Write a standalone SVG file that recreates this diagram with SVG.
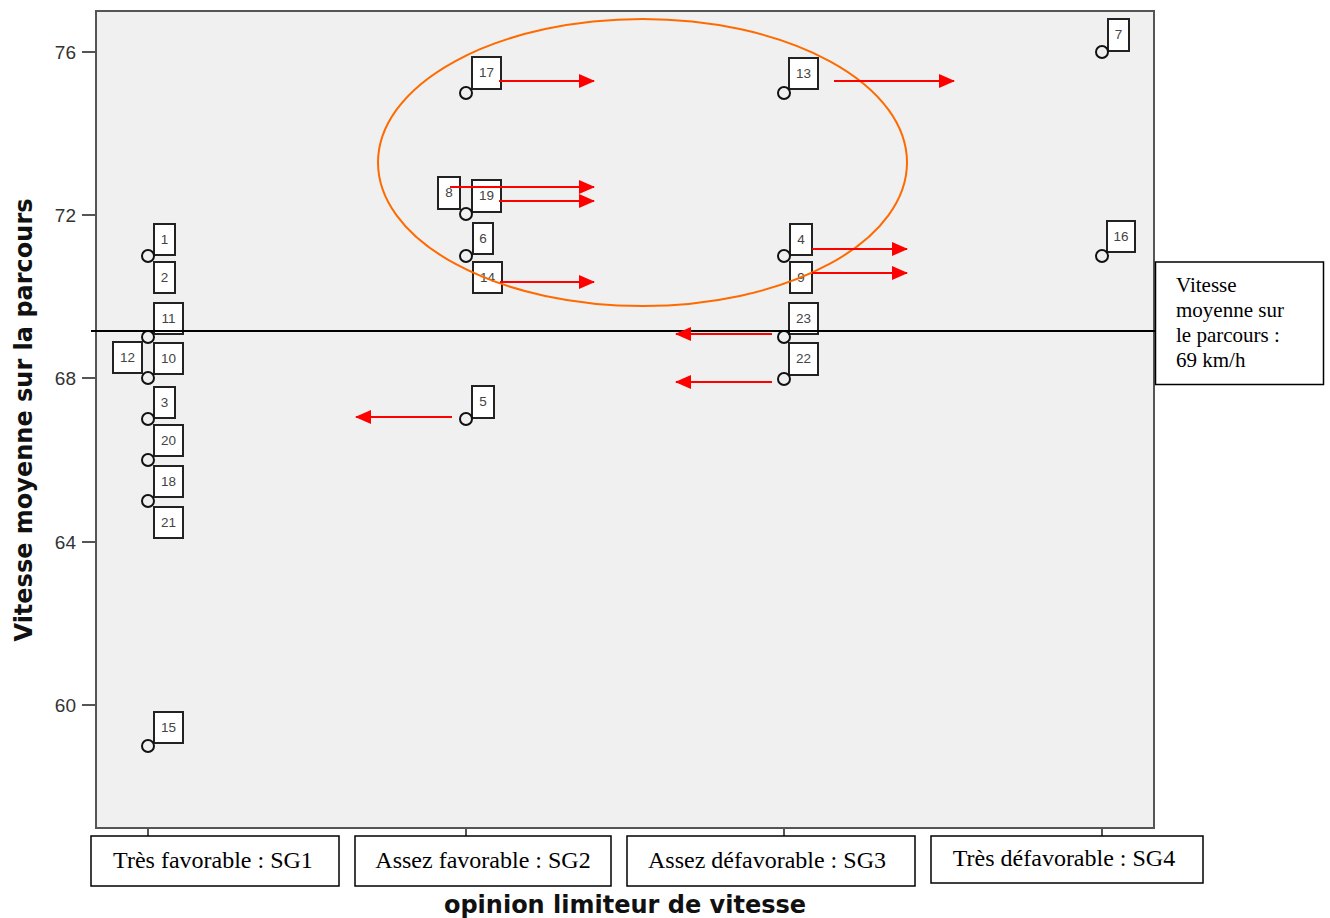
<svg xmlns="http://www.w3.org/2000/svg" width="1330" height="918" viewBox="0 0 1330 918">
<style>
.frame{fill:#f0f0f0;stroke:#555;stroke-width:2}
.tick{stroke:#555;stroke-width:2}
.tl{font-family:"Liberation Sans",Arial,sans-serif;font-size:19px;fill:#333;text-anchor:end}
.title{font-family:"DejaVu Sans",Verdana,sans-serif;font-weight:bold;font-size:24px;fill:#111;text-anchor:middle}
.pt{fill:none;stroke:#111;stroke-width:2}
.lb{fill:#fff;stroke:#222;stroke-width:2}
.lt{font-family:"Liberation Sans",Arial,sans-serif;font-size:13.5px;fill:#444;text-anchor:middle}
.cat{fill:#fff;stroke:#000;stroke-width:1.5}
.ct{font-family:"Liberation Serif","Times New Roman",serif;font-size:24px;fill:#000;text-anchor:middle}
.nt{font-family:"Liberation Serif","Times New Roman",serif;font-size:21px;fill:#000}
.arr{stroke:#ff0000;stroke-width:2;fill:none;marker-end:url(#ah)}
</style>
<defs>
<marker id="ah" markerUnits="userSpaceOnUse" markerWidth="16" markerHeight="14" refX="15" refY="7" orient="auto">
<path d="M0,0 L16,7 L0,14 Z" fill="#ff0000"/>
</marker>
</defs>
<rect x="0" y="0" width="1330" height="918" fill="#fff"/>
<g id="plot">
<rect class="frame" x="96" y="11" width="1058" height="817"/>
<line class="tick" x1="82" y1="52" x2="96" y2="52"/>
<line class="tick" x1="82" y1="215" x2="96" y2="215"/>
<line class="tick" x1="82" y1="378" x2="96" y2="378"/>
<line class="tick" x1="82" y1="542" x2="96" y2="542"/>
<line class="tick" x1="82" y1="705" x2="96" y2="705"/>
<text class="tl" x="76" y="59">76</text>
<text class="tl" x="76" y="222">72</text>
<text class="tl" x="76" y="385">68</text>
<text class="tl" x="76" y="549">64</text>
<text class="tl" x="76" y="712">60</text>
<line class="tick" x1="148" y1="828" x2="148" y2="836"/>
<line class="tick" x1="466" y1="828" x2="466" y2="836"/>
<line class="tick" x1="784" y1="828" x2="784" y2="836"/>
<line class="tick" x1="1102" y1="828" x2="1102" y2="836"/>
<text class="title" transform="translate(32,420) rotate(-90)">Vitesse moyenne sur la parcours</text>
<text class="title" x="625" y="913">opinion limiteur de vitesse</text>
</g>
<g id="cat-sg1"><rect class="cat" x="91" y="836" width="248" height="50"/><text class="ct" x="213" y="868">Très favorable : SG1</text></g>
<g id="cat-sg2"><rect class="cat" x="355" y="836" width="256" height="50"/><text class="ct" x="483" y="868">Assez favorable : SG2</text></g>
<g id="cat-sg3"><rect class="cat" x="627" y="836" width="288" height="50"/><text class="ct" x="767" y="868">Assez défavorable : SG3</text></g>
<g id="cat-sg4"><rect class="cat" x="931" y="836" width="272" height="47"/><text class="ct" x="1064" y="866">Très défavorable : SG4</text></g>

<g id="p1"><rect class="lb" x="154" y="224" width="21" height="31"/><text class="lt" x="164.5" y="244">1</text></g>
<g id="p2"><rect class="lb" x="154" y="262" width="21" height="31"/><text class="lt" x="164.5" y="282">2</text></g>
<g id="p11"><rect class="lb" x="154" y="303" width="29" height="31"/><text class="lt" x="168.5" y="323">11</text></g>
<g id="p12"><rect class="lb" x="113" y="342" width="29" height="31"/><text class="lt" x="127.5" y="362">12</text></g>
<g id="p10"><rect class="lb" x="154" y="343" width="29" height="31"/><text class="lt" x="168.5" y="363">10</text></g>
<g id="p3"><rect class="lb" x="154" y="387" width="21" height="31"/><text class="lt" x="164.5" y="407">3</text></g>
<g id="p20"><rect class="lb" x="154" y="425" width="29" height="31"/><text class="lt" x="168.5" y="445">20</text></g>
<g id="p18"><rect class="lb" x="154" y="466" width="29" height="31"/><text class="lt" x="168.5" y="486">18</text></g>
<g id="p21"><rect class="lb" x="154" y="507" width="29" height="31"/><text class="lt" x="168.5" y="527">21</text></g>
<g id="p15"><rect class="lb" x="154" y="712" width="29" height="31"/><text class="lt" x="168.5" y="732">15</text></g>
<g id="sg1-points">
<circle class="pt" cx="148" cy="256" r="6"/>
<circle class="pt" cx="148" cy="337" r="6"/>
<circle class="pt" cx="148" cy="378" r="6"/>
<circle class="pt" cx="148" cy="419" r="6"/>
<circle class="pt" cx="148" cy="460" r="6"/>
<circle class="pt" cx="148" cy="501" r="6"/>
<circle class="pt" cx="148" cy="746" r="6"/>
</g>

<g id="p17"><rect class="lb" x="472" y="57" width="29" height="32"/><text class="lt" x="486.5" y="77">17</text></g>
<g id="p8"><rect class="lb" x="438" y="177" width="22" height="32"/><text class="lt" x="449" y="197">8</text></g>
<g id="p19"><rect class="lb" x="472" y="180" width="29" height="32"/><text class="lt" x="486.5" y="200">19</text></g>
<g id="p6"><rect class="lb" x="473" y="223" width="20" height="31"/><text class="lt" x="483" y="243">6</text></g>
<g id="p14"><rect class="lb" x="473" y="262" width="29" height="31"/><text class="lt" x="487.5" y="282">14</text></g>
<g id="p5"><rect class="lb" x="472" y="386" width="22" height="32"/><text class="lt" x="483" y="406">5</text></g>
<g id="sg2-points">
<circle class="pt" cx="466" cy="93" r="6"/>
<circle class="pt" cx="466" cy="214" r="6"/>
<circle class="pt" cx="466" cy="256" r="6"/>
<circle class="pt" cx="466" cy="419" r="6"/>
</g>

<g id="p13"><rect class="lb" x="789" y="58" width="29" height="31"/><text class="lt" x="803.5" y="78">13</text></g>
<g id="p4"><rect class="lb" x="790" y="224" width="22" height="31"/><text class="lt" x="801" y="244">4</text></g>
<g id="p9"><rect class="lb" x="790" y="262" width="22" height="31"/><text class="lt" x="801" y="282">9</text></g>
<g id="p23"><rect class="lb" x="789" y="303" width="29" height="31"/><text class="lt" x="803.5" y="323">23</text></g>
<g id="p22"><rect class="lb" x="789" y="343" width="29" height="32"/><text class="lt" x="803.5" y="363">22</text></g>
<g id="sg3-points">
<circle class="pt" cx="784" cy="93" r="6"/>
<circle class="pt" cx="784" cy="256" r="6" stroke-width="2.6"/>
<circle class="pt" cx="784" cy="337" r="6"/>
<circle class="pt" cx="784" cy="379" r="6"/>
</g>

<g id="p7"><rect class="lb" x="1108" y="19" width="21" height="32"/><text class="lt" x="1118.5" y="39">7</text></g>
<g id="p16"><rect class="lb" x="1107" y="221" width="28" height="31"/><text class="lt" x="1121" y="241">16</text></g>
<g id="sg4-points">
<circle class="pt" cx="1102" cy="52" r="6"/>
<circle class="pt" cx="1102" cy="256" r="6"/>
</g>

<g id="mean-line"><line x1="91" y1="331" x2="1156" y2="331" stroke="#000" stroke-width="2"/></g>
<g id="mean-note">
<rect class="cat" x="1155.5" y="262" width="168" height="122.5"/>
<text class="nt" x="1176" y="292">Vitesse</text>
<text class="nt" x="1176" y="317">moyenne sur</text>
<text class="nt" x="1176" y="342">le parcours :</text>
<text class="nt" x="1176" y="367">69 km/h</text>
</g>
<g id="highlight"><ellipse cx="642.5" cy="162.5" rx="264.5" ry="143.5" fill="none" stroke="#ff6a00" stroke-width="2"/></g>
<g id="connectors">
<line class="arr" x1="499" y1="81" x2="594" y2="81"/>
<line class="arr" x1="450" y1="187" x2="594" y2="187"/>
<line class="arr" x1="499" y1="201" x2="594" y2="201"/>
<line class="arr" x1="500" y1="282" x2="594" y2="282"/>
<line class="arr" x1="452" y1="417" x2="356" y2="417"/>
<line class="arr" x1="834" y1="81" x2="954" y2="81"/>
<line class="arr" x1="812" y1="249" x2="907" y2="249"/>
<line class="arr" x1="812" y1="273" x2="907" y2="273"/>
<line class="arr" x1="772" y1="334" x2="676" y2="334"/>
<line class="arr" x1="772" y1="382" x2="676" y2="382"/>
</g>
</svg>
